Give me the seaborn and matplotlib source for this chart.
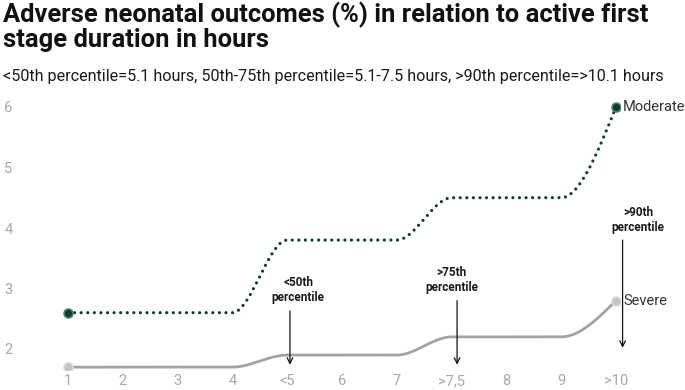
import numpy as np
import pandas as pd
import matplotlib
matplotlib.use("Agg")
import matplotlib.pyplot as plt
import seaborn as sns

# values
hours = ["1", "2", "3", "4", "<5", "6", "7", ">7,5", "8", "9", ">10"]
moderate = [2.6, 2.6, 2.6, 2.6, 3.8, 3.8, 3.8, 4.5, 4.5, 4.5, 6.0]
severe = [1.7, 1.7, 1.7, 1.7, 1.9, 1.9, 1.9, 2.2, 2.2, 2.2, 2.8]
y_ticks = [2, 3, 4, 5, 6]

GREEN = "#0f3d2c"
GREY = "#a3a3a3"


def monotone_curve(y, steps=40):
    # monotone cubic (like d3 curveMonotoneX) just for drawing the line
    y = np.asarray(y, dtype=float)
    x = np.arange(len(y), dtype=float)
    s = np.diff(y)
    t = np.zeros(len(y))
    for i in range(1, len(y) - 1):
        s0, s1 = s[i - 1], s[i]
        p = (s0 + s1) / 2
        t[i] = (np.sign(s0) + np.sign(s1)) * min(abs(s0), abs(s1), 0.5 * abs(p))
    t[0] = (3 * s[0] - t[1]) / 2
    t[-1] = (3 * s[-1] - t[-2]) / 2
    xs, ys = [], []
    for i in range(len(y) - 1):
        u = np.linspace(0, 1, steps, endpoint=False)
        h00 = 2 * u**3 - 3 * u**2 + 1
        h10 = u**3 - 2 * u**2 + u
        h01 = -2 * u**3 + 3 * u**2
        h11 = u**3 - u**2
        xs.append(x[i] + u)
        ys.append(h00 * y[i] + h10 * t[i] + h01 * y[i + 1] + h11 * t[i + 1])
    xs.append([x[-1]])
    ys.append([y[-1]])
    return np.concatenate(xs), np.concatenate(ys)


sns.set_style("white")
plt.rcParams["font.family"] = ["Roboto", "DejaVu Sans"]

fig = plt.figure(figsize=(6.85, 3.9), dpi=100)
ax = fig.add_axes([55 / 685, 1 - 370 / 390, 565 / 685, 270 / 390])

mx, my = monotone_curve(moderate)
sx, sy = monotone_curve(severe)
smooth = pd.DataFrame({"x": mx, "y": my})
sns.lineplot(data=smooth, x="x", y="y", ax=ax, color=GREEN, linewidth=2.3,
             linestyle=(0, (0.01, 2.05)), dash_capstyle="round", sort=False)
smooth_s = pd.DataFrame({"x": sx, "y": sy})
sns.lineplot(data=smooth_s, x="x", y="y", ax=ax, color=GREY, linewidth=2.0,
             sort=False)

ends = [0, len(hours) - 1]
sns.scatterplot(x=ends, y=[moderate[i] for i in ends], ax=ax, s=40,
                color=GREEN, edgecolor="#4f7a68", linewidth=1.2, zorder=5)
sns.scatterplot(x=ends, y=[severe[i] for i in ends], ax=ax, s=40,
                color="#c4c4c4", edgecolor="#d6d6d6", linewidth=1.2, zorder=5)

ax.text(len(hours) - 1 + 0.13, moderate[-1], "Moderate", fontsize=10.5,
        color="#333333", va="center", ha="left")
ax.text(len(hours) - 1 + 0.13, severe[-1], "Severe", fontsize=10.5,
        color="#333333", va="center", ha="left")

# percentile call-outs
arrow = dict(arrowstyle="->", color="#111111", lw=0.9, shrinkA=0, shrinkB=0)
ax.annotate("", xy=(4.05, 1.74), xytext=(4.05, 2.63), arrowprops=arrow,
            annotation_clip=False)
ax.text(4.2, 2.98, "<50th\npercentile", fontsize=8.5, fontweight="bold",
        ha="center", va="center", color="#1a1a1a", linespacing=1.2)
ax.annotate("", xy=(7.1, 1.74), xytext=(7.1, 2.8), arrowprops=arrow,
            annotation_clip=False)
ax.text(7.0, 3.14, ">75th\npercentile", fontsize=8.5, fontweight="bold",
        ha="center", va="center", color="#1a1a1a", linespacing=1.2)
ax.annotate("", xy=(10.12, 2.02), xytext=(10.12, 3.8), arrowprops=arrow,
            annotation_clip=False)
ax.text(10.4, 4.13, ">90th\npercentile", fontsize=8.5, fontweight="bold",
        ha="center", va="center", color="#1a1a1a", linespacing=1.2)

ax.set_xlim(-13 / 54.8, 10 + 4 / 54.8)
ax.set_ylim(2 - 21 / 60.5, 6 + 7 / 60.5)
ax.set_xticks(range(len(hours)))
ax.set_xticklabels(hours)
ax.set_yticks(y_ticks)
ax.set_xlabel("")
ax.set_ylabel("")
ax.tick_params(axis="x", length=0, pad=3, labelsize=10.5, labelcolor="#a8a8a8")
ax.tick_params(axis="y", length=0, pad=36.5, labelsize=10.5, labelcolor="#a8a8a8")
for lbl in ax.get_yticklabels():
    lbl.set_horizontalalignment("left")
sns.despine(ax=ax, left=True, bottom=True)
ax.grid(False)

fig.text(3 / 685, 1 - 2 / 390, "Adverse neonatal outcomes (%) in relation to active first\nstage duration in hours",
         fontsize=18.4, fontweight="bold", color="#111111", ha="left", va="top",
         linespacing=1.0)
fig.text(3 / 685, 1 - 76 / 390, "<50th percentile=5.1 hours, 50th-75th percentile=5.1-7.5 hours, >90th percentile=>10.1 hours",
         fontsize=11.6, color="#1a1a1a", ha="left", va="center")

fig.savefig("out.png", dpi=100)
